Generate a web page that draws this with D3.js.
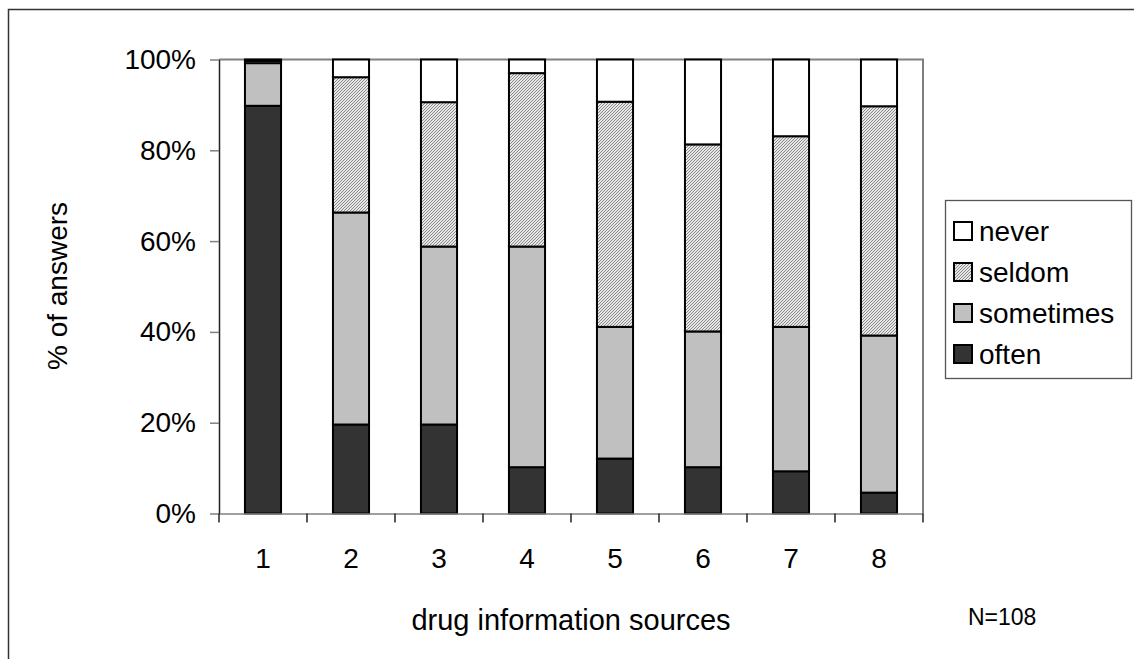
<!DOCTYPE html>
<html><head><meta charset="utf-8">
<script src="https://cdn.jsdelivr.net/npm/d3@7"></script>
<style>
html,body{margin:0;padding:0;background:#fff;}
text{font-family:"Liberation Sans",Arial,sans-serif;fill:#000;}
</style></head>
<body>
<svg id="chart" width="1134" height="659"></svg>
<script>
const categories = ["1","2","3","4","5","6","7","8"];
const seriesNames = ["often","sometimes","seldom","never"];
const often     = [89.8, 19.6, 19.6, 10.2, 12.1, 10.2,  9.3,  4.6];
const sometimes = [ 9.4, 46.7, 39.2, 48.6, 29.0, 29.9, 31.8, 34.6];
const seldom    = [ 0.5, 29.8, 31.8, 38.2, 49.6, 41.2, 42.0, 50.5];
const never     = [ 0.3,  3.9,  9.4,  3.0,  9.3, 18.7, 16.9, 10.3];
const yTicks = [0, 20, 40, 60, 80, 100];
const legendOrder = ["never","seldom","sometimes","often"];

const rows = categories.map((c,i)=>({cat:c, often:often[i], sometimes:sometimes[i], seldom:seldom[i], never:never[i]}));

const svg = d3.select("#chart");
const defs = svg.append("defs");
const pat = defs.append("pattern").attr("id","hatch").attr("patternUnits","userSpaceOnUse")
  .attr("width",3).attr("height",3);
pat.append("rect").attr("width",3).attr("height",3).attr("fill","#e6e6e6");
pat.append("rect").attr("x",2).attr("y",0).attr("width",1).attr("height",1).attr("fill","#8a8a8a");
pat.append("rect").attr("x",1).attr("y",1).attr("width",1).attr("height",1).attr("fill","#8a8a8a");
pat.append("rect").attr("x",0).attr("y",2).attr("width",1).attr("height",1).attr("fill","#8a8a8a");

const fills = {often:"#333333", sometimes:"#c0c0c0", seldom:"url(#hatch)", never:"#ffffff"};

// outer frame
svg.append("rect").attr("x",8.5).attr("y",9.5).attr("width",1300).attr("height",800)
  .attr("fill","none").attr("stroke","#333").attr("stroke-width",1.5);

const L=219, R=923, T=59.5, B=513.5;
const x = d3.scaleBand().domain(categories).range([L,R]).padding(0);
const y = d3.scaleLinear().domain([0,100]).range([B,T]);

// plot frame top & right
svg.append("path").attr("d",`M${L},${T}H${R}V${B}`).attr("fill","none").attr("stroke","#808080").attr("stroke-width",2);

const stack = d3.stack().keys(seriesNames)(rows);
const bw = x.bandwidth()*0.41;
svg.append("g").selectAll("g").data(stack).join("g")
  .attr("fill",d=>fills[d.key])
  .selectAll("rect").data(d=>d).join("rect")
  .attr("x",d=>x(d.data.cat)+(x.bandwidth()-bw)/2)
  .attr("width",bw)
  .attr("y",d=>y(d[1]))
  .attr("height",d=>Math.max(0,y(d[0])-y(d[1])))
  .attr("stroke","#000").attr("stroke-width",2);

// y axis
const ya = svg.append("g").attr("transform",`translate(${L},0)`)
  .call(d3.axisLeft(y).tickValues(yTicks).tickFormat(d=>d+"%").tickSize(9).tickPadding(14).tickSizeOuter(0));
ya.select(".domain").attr("stroke","#222").attr("stroke-width",1.5);
ya.selectAll(".tick line").attr("stroke","#808080").attr("stroke-width",1.5);
ya.selectAll("text").attr("font-size",28).attr("font-family","Liberation Sans, Arial, sans-serif");

// x axis
const xa = svg.append("g").attr("transform",`translate(0,${B})`)
  .call(d3.axisBottom(x).tickSize(0).tickPadding(35).tickSizeOuter(0));
xa.select(".domain").attr("stroke","#808080").attr("stroke-width",1.5);
xa.selectAll("text").attr("font-size",28).attr("font-family","Liberation Sans, Arial, sans-serif");
const bounds = categories.map(c=>x(c)).concat([R]);
svg.append("g").selectAll("line").data(bounds).join("line")
  .attr("x1",d=>d).attr("x2",d=>d).attr("y1",B).attr("y2",B+9)
  .attr("stroke","#222").attr("stroke-width",1.5);

// titles
svg.append("text").attr("transform","translate(67,286) rotate(-90)").attr("text-anchor","middle")
  .attr("font-size",28).text("% of answers");
svg.append("text").attr("x",571).attr("y",630).attr("text-anchor","middle")
  .attr("font-size",29).text("drug information sources");
svg.append("text").attr("x",968).attr("y",625).attr("font-size",23).text("N=108");

// legend
const lg = svg.append("g");
lg.append("rect").attr("x",945.5).attr("y",200.5).attr("width",186).attr("height",178)
  .attr("fill","#fff").attr("stroke","#555").attr("stroke-width",1.3);
legendOrder.forEach((k,i)=>{
  const cy = 231 + i*41;
  lg.append("rect").attr("x",954).attr("y",cy-9).attr("width",18).attr("height",18)
    .attr("fill",fills[k]).attr("stroke","#000").attr("stroke-width",2);
  lg.append("text").attr("x",979).attr("y",cy+10).attr("font-size",28).text(k);
});
</script>
</body></html>
